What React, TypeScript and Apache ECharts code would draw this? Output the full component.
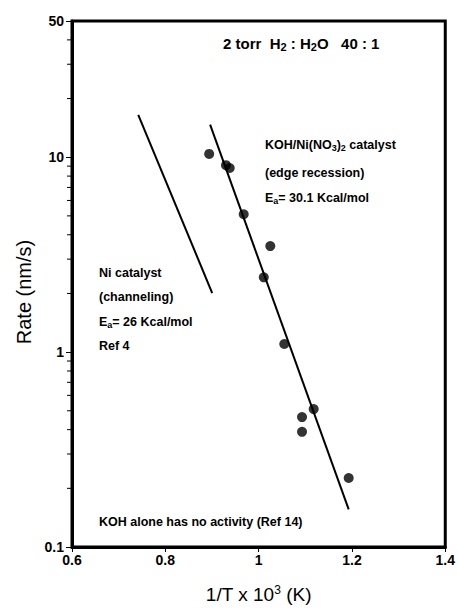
import React, { useEffect, useRef } from "react";
import * as echarts from "echarts";

// KOH/Ni(NO3)2 catalyst measured points [1/T x 10^3, rate nm/s]
const kohNiPoints: [number, number][] = [
  [0.894, 10.4],
  [0.93, 9.1],
  [0.938, 8.8],
  [0.968, 5.1],
  [1.025, 3.5],
  [1.011, 2.42],
  [1.055, 1.1],
  [1.118, 0.51],
  [1.093, 0.464],
  [1.093, 0.39],
  [1.193, 0.226],
];
// fitted line, Ea = 30.1 kcal/mol
const kohNiFit: [number, number][] = [
  [0.896, 14.7],
  [1.193, 0.156],
];
// Ni catalyst line (Ref 4), Ea = 26 kcal/mol
const niFit: [number, number][] = [
  [0.742, 16.5],
  [0.9005, 2.01],
];
const yMinorTicks = [
  0.2, 0.3, 0.4, 0.5, 0.6, 0.7, 0.8, 0.9, 2, 3, 4, 5, 6, 7, 8, 9, 20, 30, 40,
];

const FONT = "'Liberation Sans', Arial, Helvetica, sans-serif";

export default function App() {
  const ref = useRef<HTMLDivElement>(null);
  useEffect(() => {
    document.body.style.margin = "0";
    const chart = echarts.init(ref.current!, null, { renderer: "svg" });
    const annFont = `bold 12.5px ${FONT}`;
    const sub = { fontSize: 9, fontWeight: "bold", fontFamily: FONT, padding: [6, 0, 0, 0] };
    const main = { fontSize: 12.5, fontWeight: "bold", fontFamily: FONT };
    const mkText = (x: number, y: number, text: string, rich?: any) => ({
      type: "text",
      style: rich
        ? { x, y, text, rich, fill: "#000", verticalAlign: "middle" }
        : { x, y, text, font: annFont, fill: "#000", verticalAlign: "middle" },
      z: 10,
    });
    chart.setOption({
      animation: false,
      backgroundColor: "#fff",
      grid: {
        left: 72,
        right: 8,
        top: 21,
        bottom: 54,
        show: true,
        borderColor: "#000",
        borderWidth: 3,
      },
      xAxis: {
        type: "value",
        min: 0.6,
        max: 1.4,
        interval: 0.2,
        name: "1/T x 10{sup|3} (K)",
        nameLocation: "middle",
        nameGap: 37,
        nameTextStyle: {
          fontSize: 19,
          fontFamily: FONT,
          color: "#000",
          rich: { sup: { fontSize: 12, fontFamily: FONT, color: "#000", padding: [0, 0, 9, 0] } },
        },
        axisLine: { lineStyle: { color: "#000", width: 3 } },
        axisTick: { length: 5, lineStyle: { color: "#000", width: 1 } },
        axisLabel: { color: "#000", fontSize: 14, fontWeight: "bold", fontFamily: FONT, margin: 6 },
        splitLine: { show: false },
      },
      yAxis: {
        type: "log",
        logBase: 10,
        min: 0.1,
        max: 50,
        name: "Rate (nm/s)",
        nameLocation: "middle",
        nameGap: 36,
        nameTextStyle: { fontSize: 20, fontFamily: FONT, color: "#000", padding: [0, 0, 0, -16] },
        axisLine: { lineStyle: { color: "#000", width: 3 } },
        axisTick: { length: 6, lineStyle: { color: "#000", width: 1 } },
        axisLabel: {
          color: "#000",
          fontSize: 14,
          fontWeight: "bold",
          fontFamily: FONT,
          margin: 8,
          formatter: (v: number) => String(Math.round(v * 10) / 10),
        },
        splitLine: { show: false },
      },
      series: [
        {
          type: "custom",
          silent: true,
          clip: false,
          data: yMinorTicks.map((v) => [0.6, v]),
          renderItem: (params: any, api: any) => {
            const p = api.coord([api.value(0), api.value(1)]);
            return {
              type: "line",
              shape: { x1: p[0] - 5, y1: p[1], x2: p[0], y2: p[1] },
              style: { stroke: "#000", lineWidth: 1 },
            };
          },
        },
        {
          type: "line",
          data: niFit,
          showSymbol: false,
          symbol: "none",
          lineStyle: { color: "#000", width: 2 },
        },
        {
          type: "line",
          data: kohNiFit,
          showSymbol: false,
          symbol: "none",
          lineStyle: { color: "#000", width: 2 },
        },
        {
          type: "scatter",
          data: kohNiPoints,
          symbol: "circle",
          symbolSize: 10,
          itemStyle: { color: "#000" },
        },
      ],
      graphic: [
        {
          type: "text",
          style: {
            x: 223,
            y: 43,
            verticalAlign: "middle",
            text: "{m|2 torr  H}{s|2}{m| : H}{s|2}{m|O   40 : 1}",
            rich: {
              m: { fontSize: 15, fontWeight: "bold", fontFamily: FONT },
              s: { fontSize: 11, fontWeight: "bold", fontFamily: FONT, padding: [7, 0, 0, 0] },
            },
            fill: "#000",
          },
        },
        mkText(265, 145, "{m|KOH/Ni(NO}{s|3}{m|)}{s|2}{m| catalyst}", { m: main, s: sub }),
        mkText(265, 173, "(edge recession)"),
        mkText(265, 198, "{m|E}{s|a}{m|= 30.1 Kcal/mol}", { m: main, s: sub }),
        mkText(99, 273, "Ni catalyst"),
        mkText(99, 297, "(channeling)"),
        mkText(99, 322, "{m|E}{s|a}{m|= 26 Kcal/mol}", { m: main, s: sub }),
        mkText(99, 346, "Ref 4"),
        mkText(99, 522, "KOH alone has no activity (Ref 14)"),
      ],
    });
    return () => chart.dispose();
  }, []);
  return <div ref={ref} style={{ width: 458, height: 609 }} />;
}
